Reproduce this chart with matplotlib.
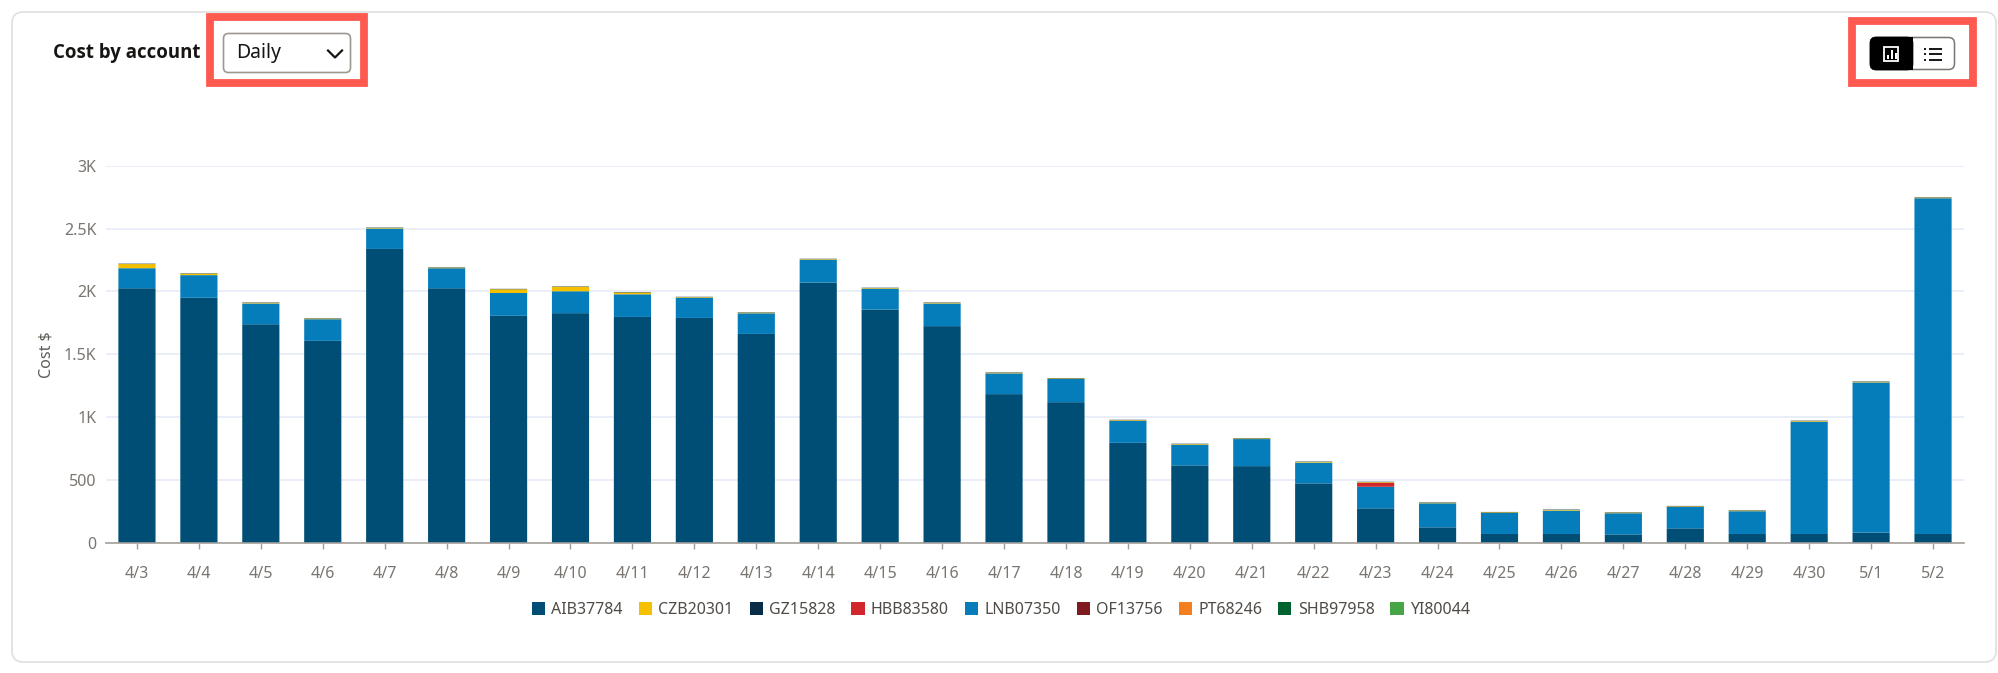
import numpy as np
import matplotlib
matplotlib.use('Agg')
import matplotlib.pyplot as plt
from matplotlib.patches import Rectangle, FancyBboxPatch

days = ['4/3', '4/4', '4/5', '4/6', '4/7', '4/8', '4/9', '4/10', '4/11', '4/12',
        '4/13', '4/14', '4/15', '4/16', '4/17', '4/18', '4/19', '4/20', '4/21', '4/22',
        '4/23', '4/24', '4/25', '4/26', '4/27', '4/28', '4/29', '4/30', '5/1', '5/2']

# values, in dollars
aib = [2026, 1950, 1740, 1608, 2338, 2026, 1807, 1828, 1798, 1790,
       1663, 2071, 1857, 1725, 1185, 1121, 798, 619, 613, 476,
       278, 127, 74, 74, 71, 119, 74, 74, 85, 74]
lnb = [159, 180, 165, 172, 162, 159, 181, 174, 180, 160,
       164, 181, 165, 180, 165, 184, 175, 164, 215, 165,
       171, 191, 167, 186, 168, 170, 181, 892, 1193, 2667]
hbb = [0, 0, 0, 0, 0, 0, 0, 0, 0, 0,
       0, 0, 0, 0, 0, 0, 0, 0, 0, 0,
       32, 0, 0, 0, 0, 0, 0, 0, 0, 0]
czb = [33, 12, 5, 5, 5, 5, 30, 36, 15, 5,
       5, 5, 5, 5, 5, 5, 5, 5, 5, 5,
       5, 5, 5, 5, 5, 5, 5, 5, 5, 5]
gz = [3] * 30
of = [0] * 30
pt = [0] * 30
shb = [0] * 30
yi = [0] * 30

names = ['AIB37784', 'CZB20301', 'GZ15828', 'HBB83580', 'LNB07350',
         'OF13756', 'PT68246', 'SHB97958', 'YI80044']
colors = ['#004e75', '#f5c000', '#0a2d47', '#d1262b', '#067dbb',
          '#7f1a20', '#f47f1f', '#00632f', '#47a447']
# bottom to top order of the stack
stack = [(aib, 0), (lnb, 4), (hbb, 3), (czb, 1), (gz, 2), (of, 5), (pt, 6), (shb, 7), (yi, 8)]

yticks = [0, 500, 1000, 1500, 2000, 2500, 3000]
ylabels = ['0', '500', '1K', '1.5K', '2K', '2.5K', '3K']

W, H = 1999, 673
plt.rcParams['font.family'] = ['Noto Sans', 'DejaVu Sans']
fig = plt.figure(figsize=(W / 100, H / 100), dpi=100, facecolor='white')

# page furniture, drawn in pixel coordinates
bg = fig.add_axes([0, 0, 1, 1])
bg.set_xlim(0, W)
bg.set_ylim(H, 0)
bg.axis('off')

bg.add_patch(FancyBboxPatch((12, 12), 1984, 650, boxstyle='round,pad=0,rounding_size=11',
                            fc='white', ec='#e2e2e2', lw=1.3))
bg.text(53, 53, 'Cost by account', fontsize=13.4, fontweight='bold', family='Open Sans',
        color='#161513', va='center')

# dropdown
bg.add_patch(FancyBboxPatch((223.5, 33.5), 127, 39, boxstyle='round,pad=0,rounding_size=5',
                            fc='white', ec='#9e9892', lw=1.2))
bg.text(236, 53, 'Daily', fontsize=14, color='#161513', va='center')
bg.plot([328, 335, 342], [50.5, 57.5, 50.5], color='#161513', lw=1.6)

# view switch
bg.add_patch(FancyBboxPatch((1870.5, 37.5), 84, 32, boxstyle='round,pad=0,rounding_size=6',
                            fc='white', ec='#7a7570', lw=1.1))
bg.add_patch(FancyBboxPatch((1870, 37), 43, 33, boxstyle='round,pad=0,rounding_size=6',
                            fc='black', ec='black', lw=0.5))
bg.add_patch(Rectangle((1900, 37), 13, 33, fc='black', ec='none'))
bg.add_patch(Rectangle((1884.5, 46.5), 14, 14, fc='none', ec='white', lw=1.3))
for bx, bh in [(1887, 4), (1891, 9), (1895, 6)]:
    bg.add_patch(Rectangle((bx, 59 - bh), 2, bh, fc='white', ec='none'))
for ly in [48.5, 54, 59.5]:
    bg.plot([1924.5, 1926.5], [ly, ly], color='#161513', lw=1.4, solid_capstyle='butt')
    bg.plot([1929, 1942], [ly, ly], color='#161513', lw=1.4, solid_capstyle='butt')

# red highlight boxes
for x0, y0, x1, y1 in [(210, 17, 364, 83), (1852, 21, 1973, 83)]:
    bg.add_patch(Rectangle((x0, y0), x1 - x0, y1 - y0, fc='none', ec='#ff5a4f', lw=5.6))

# chart
ax = fig.add_axes([106 / W, (H - 543.3) / H, 1858 / W, 377.7 / H])
ax.patch.set_alpha(0)
x = np.arange(len(days))
bottom = np.zeros(len(days))
for values, c in stack:
    bars = ax.bar(x, values, 0.6, bottom=bottom, color=colors[c], zorder=3)
    for b in bars:
        b.set_snap(False)
    bottom = bottom + np.array(values)

ax.set_xlim(-0.5, 29.5)
ax.set_ylim(0, 3000)
ax.set_xticks(x)
ax.set_xticklabels(days)
ax.set_yticks(yticks)
ax.set_yticklabels(ylabels)
ax.grid(axis='y', color='#e8edf8', lw=1.3, zorder=0)
ax.set_axisbelow(True)
for s in ['top', 'right', 'left']:
    ax.spines[s].set_visible(False)
ax.spines['bottom'].set_color('#a39e99')
ax.spines['bottom'].set_linewidth(1.2)
ax.spines['bottom'].set_zorder(4)
ax.tick_params(axis='x', length=4, width=1, color='#a39e99', labelcolor='#7a7570',
               labelsize=11.5, pad=12.5)
ax.tick_params(axis='y', length=0, labelcolor='#7a7570', labelsize=11.5, pad=7)

bg.text(47, 355, 'Cost $', fontsize=11.5, color='#5f5a55', rotation=90, ha='center', va='center')

# legend
handles = [Rectangle((0, 0), 1, 1, fc=c, ec='none') for c in colors]
fig.legend(handles, names, ncols=9, loc='center', bbox_to_anchor=(1001 / W, (H - 610) / H),
           frameon=False, fontsize=11.5, labelcolor='#4f4b47', handlelength=0.82, handleheight=0.82,
           handletextpad=0.4, columnspacing=1.0, borderpad=0)

fig.savefig('out.png', dpi=100)
